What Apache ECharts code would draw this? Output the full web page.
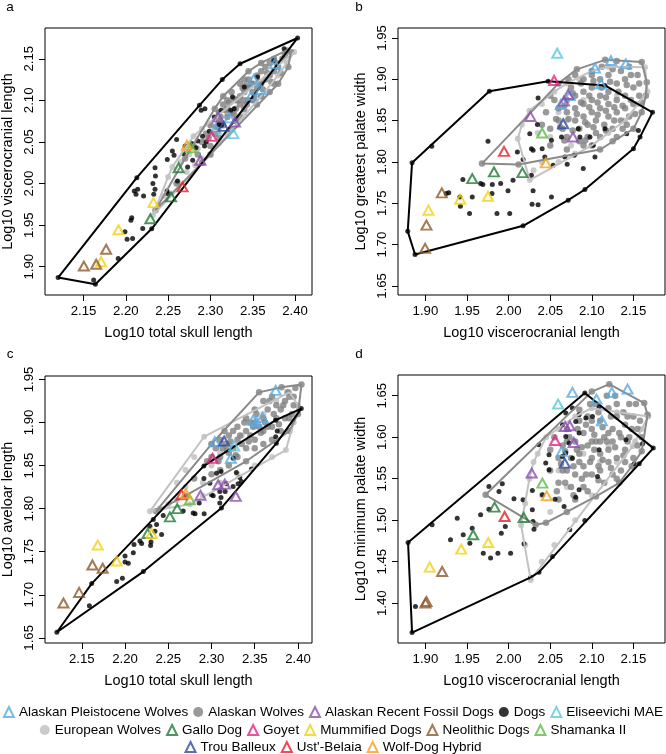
<!DOCTYPE html>
<html><head><meta charset="utf-8">
<script src="https://cdn.jsdelivr.net/npm/echarts@6/dist/echarts.min.js"></script>
<style>html,body{margin:0;padding:0;background:#fff}#c{width:666px;height:754px}</style>
</head><body><div id="c"></div>
<script>
// ---------- axis ticks / titles ----------
const panelLetters = ['a', 'b', 'c', 'd'];
const xTitles = ['Log10 total skull length', 'Log10 viscerocranial length', 'Log10 total skull length', 'Log10 viscerocranial length'];
const yTitles = ['Log10 viscerocranial length', 'Log10 greatest palate width', 'Log10 aveloar length', 'Log10 minimum palate width'];
const xTicksA = [2.15, 2.20, 2.25, 2.30, 2.35, 2.40];
const yTicksA = [1.90, 1.95, 2.00, 2.05, 2.10, 2.15];
const xTicksB = [1.90, 1.95, 2.00, 2.05, 2.10, 2.15];
const yTicksB = [1.65, 1.70, 1.75, 1.80, 1.85, 1.90, 1.95];
const xTicksC = [2.15, 2.20, 2.25, 2.30, 2.35, 2.40];
const yTicksC = [1.65, 1.70, 1.75, 1.80, 1.85, 1.90, 1.95];
const xTicksD = [1.90, 1.95, 2.00, 2.05, 2.10, 2.15];
const yTicksD = [1.40, 1.45, 1.50, 1.55, 1.60, 1.65];

// ---------- Dogs (black dots) ----------
const dogsA = [[2.12,1.887],[2.164,1.879],[2.162,1.884],[2.191,1.910],[2.213,2.007],[2.287,2.094],[2.314,2.125],[2.335,2.144],[2.403,2.175],
[2.199,1.942],[2.2015,1.933],[2.206,1.956],[2.207,1.959],[2.220,1.946],[2.210,1.991],[2.212,1.987],[2.214,1.993],[2.221,1.985],
[2.232,2.000],[2.233,1.987],[2.2345,2.019],[2.235,2.009],[2.2345,1.993],[2.2487,1.991],[2.2495,1.988],[2.257,2.034],[2.260,2.053],[2.255,2.039],
[2.268,2.036],[2.270,2.045],[2.278,2.048],[2.283,2.043],[2.285,2.051],[2.289,2.088],[2.2935,2.090],[2.2907,2.057],[2.295,2.05],[2.2986,2.063],
[2.3045,2.080],[2.3125,2.088],[2.310,2.071],[2.313,2.07],[2.324,2.088],[2.326,2.104],[2.340,2.116],[2.328,2.09],[2.3556,2.128],
[2.375,2.148],[2.387,2.162],[2.261,2.003],[2.273,2.02],[2.279,2.028],[2.293,2.045],[2.249,2.029],[2.208,1.934],[2.2306,1.9456]];
const dogsB = [[1.8787,1.716],[1.8875,1.688],[1.8839,1.799],[1.9768,1.8856],[2.173,1.860],[2.0174,1.7227],[2.0917,1.7666],[2.0716,1.7537],
[2.150,1.816],[2.158,1.83],[2.156,1.838],[2.142,1.834],[2.0475,1.8977],[2.1158,1.8925],[1.9076,1.819],
[1.928,1.7626],[1.942,1.7465],[1.9414,1.7577],[1.953,1.7376],[1.9563,1.7577],[1.945,1.7786],[1.9663,1.7738],[1.969,1.7726],[1.9804,1.7726],
[1.9752,1.8249],[1.98,1.7617],[1.9904,1.7738],[1.9993,1.765],[2.0053,1.7778],[1.986,1.7376],[2.0013,1.7376],[2.0294,1.765],[2.0282,1.7489],
[2.0354,1.7481],[2.0515,1.7577],[2.0274,1.7839],[2.0294,1.814],[2.0403,1.816],[2.0346,1.8454],[2.0515,1.8261],[2.0535,1.7959],[2.0636,1.8301],
[2.0704,1.7971],[2.0897,1.7919],[2.0837,1.8402],[2.1018,1.8201],[2.1038,1.806],[2.0789,1.808],[2.0857,1.8301],[2.0978,1.8301],[2.0354,1.8772],
[2.0254,1.8341],[2.0174,1.8028],[2.0105,1.812],[2.0274,1.816],[2.0435,1.806],[2.0676,1.806],[2.1158,1.84],[1.925,1.7617]];
const dogsC = [[2.1212,1.6565],[2.1588,1.6873],[2.1615,1.713],[2.2327,1.7873],[2.2912,1.8496],[2.3742,1.9027],[2.4038,1.9162],[2.2212,1.7269],
[2.3115,1.8008],[2.375,1.8758],[2.3742,1.8835],[2.376,1.89],
[2.1904,1.7154],[2.197,1.7192],[2.20,1.745],[2.20,1.738],[2.2038,1.7365],[2.2096,1.7488],[2.2104,1.7585],[2.2173,1.7623],[2.2192,1.7596],
[2.2288,1.7796],[2.2296,1.7573],[2.23,1.7612],[2.2346,1.7738],[2.2423,1.77],[2.2365,1.7815],[2.2442,1.7919],[2.2673,1.7973],[2.2788,1.795],
[2.281,1.794],[2.2915,1.7942],[2.2858,1.8065],[2.30,1.8162],[2.302,1.815],[2.3096,1.8065],[2.311,1.813],[2.3096,1.82],[2.3158,1.82],
[2.3173,1.8288],[2.325,1.8258],[2.3308,1.8288],[2.3346,1.8315],[2.3327,1.8362],[2.325,1.8585],[2.3058,1.8412],[2.311,1.843],[2.2981,1.8296],
[2.2912,1.835],[2.3288,1.8419],[2.3462,1.846]];
const dogsD = [[1.8791,1.4731],[1.8839,1.3646],[2.0265,1.431],[2.0365,1.4374],[2.0916,1.4997],[2.151,1.568],[2.157,1.568],[2.1739,1.5869],
[2.0916,1.6532],[2.0526,1.4563],[2.161,1.592],[2.1088,1.636],
[1.888,1.396],[1.908,1.4944],[1.9382,1.5025],[1.9301,1.4764],[1.9454,1.4824],[1.9534,1.4723],[1.9562,1.4904],[1.9663,1.5065],[1.9695,1.4603],
[1.9763,1.5407],[1.9763,1.5133],[1.9783,1.4543],[1.9871,1.4603],[1.9884,1.5346],[1.9924,1.5439],[1.9912,1.4844],[1.996,1.4924],[2.0024,1.4603],
[2.0064,1.5258],[2.0173,1.5246],[2.0285,1.5125],[2.0293,1.4985],[2.0185,1.4715],[2.0305,1.4892],[2.0285,1.5358],[2.0406,1.5306],[2.0558,1.5254],
[2.0667,1.5166],[2.0446,1.5688],[2.0486,1.5789],[2.0365,1.5909],[2.0687,1.5809],[2.0767,1.5748],[2.0727,1.5929],[2.0807,1.6191],[2.0847,1.6271],
[2.0928,1.6231],[2.1008,1.6251],[2.0687,1.6291],[2.0767,1.6351],[2.0647,1.615],[2.0687,1.6009],[2.0647,1.5769],[2.0486,1.5608],[2.0847,1.605],
[2.1088,1.5849],[2.1068,1.5527],[2.0847,1.5366],[2.0807,1.5278],[2.141,1.597],[2.0735,1.4884]];

// ---------- Alaskan Wolves (dark grey dots) ----------
const akWolvesA = [[2.235,1.968],[2.26,2.0],[2.27,2.03],[2.28,2.045],[2.285,2.035],[2.29,2.05],[2.295,2.06],[2.30,2.045],[2.30,2.07],[2.305,2.06],
[2.31,2.075],[2.31,2.085],[2.315,2.07],[2.315,2.095],[2.32,2.08],[2.32,2.09],[2.32,2.10],[2.325,2.085],[2.325,2.11],[2.33,2.09],[2.33,2.10],
[2.33,2.075],[2.335,2.095],[2.335,2.105],[2.335,2.12],[2.34,2.10],[2.34,2.11],[2.34,2.09],[2.345,2.115],[2.345,2.1],[2.345,2.125],[2.35,2.11],
[2.35,2.12],[2.35,2.10],[2.355,2.115],[2.355,2.13],[2.36,2.12],[2.36,2.135],[2.36,2.105],[2.365,2.125],[2.365,2.14],[2.37,2.13],[2.37,2.145],
[2.375,2.135],[2.375,2.15],[2.38,2.14],[2.385,2.15],[2.39,2.16],[2.395,2.158],[2.392,2.14],[2.38,2.12],[2.37,2.11],[2.325,2.065],[2.31,2.055],
[2.30,2.035],[2.29,2.025],[2.345,2.135],[2.315,2.105],[2.305,2.09],[2.335,2.08],[2.355,2.095],[2.375,2.12],[2.34,2.125],[2.36,2.145],
[2.318,2.088],[2.322,2.097],[2.328,2.083],[2.333,2.1],[2.338,2.115],[2.343,2.095],[2.348,2.12],[2.352,2.105],[2.357,2.122],[2.362,2.113],
[2.367,2.133],[2.372,2.122],[2.378,2.145],[2.383,2.133],[2.388,2.155],[2.312,2.08],[2.307,2.068],[2.298,2.055],[2.328,2.102],[2.342,2.118]];
const akWolvesB = [[1.968,1.798],[2.012,1.797],[2.116,1.9235],[2.13,1.922],[2.16,1.921],[2.166,1.8965],[2.165,1.88],[2.16,1.86],[2.15,1.84],
[2.13,1.83],[2.11,1.815],[2.09,1.82],[2.07,1.83],[2.05,1.84],[2.045,1.86],[2.05,1.88],[2.06,1.895],[2.08,1.905],[2.10,1.91],
[2.06,1.85],[2.07,1.86],[2.07,1.875],[2.08,1.85],[2.08,1.865],[2.08,1.88],[2.085,1.84],[2.09,1.855],[2.09,1.87],[2.09,1.885],[2.09,1.9],
[2.095,1.845],[2.10,1.86],[2.10,1.875],[2.10,1.89],[2.105,1.835],[2.105,1.85],[2.11,1.865],[2.11,1.88],[2.11,1.9],[2.115,1.845],[2.12,1.855],
[2.12,1.87],[2.12,1.885],[2.12,1.905],[2.125,1.84],[2.13,1.86],[2.13,1.875],[2.13,1.895],[2.135,1.85],[2.14,1.865],[2.14,1.88],[2.14,1.90],
[2.145,1.855],[2.15,1.87],[2.15,1.89],[2.155,1.905],[2.065,1.84],[2.075,1.89],[2.1,1.905],[2.085,1.825],[2.095,1.83],[2.06,1.865],[2.07,1.815],
[2.055,1.875],[2.11,1.83],[2.125,1.825],[2.135,1.91],[2.145,1.915],[2.1,1.82],[2.05,1.82],[2.04,1.845],
[2.062,1.842],[2.067,1.868],[2.072,1.852],[2.077,1.883],[2.082,1.858],[2.087,1.872],[2.087,1.895],[2.092,1.848],[2.097,1.866],[2.097,1.88],
[2.102,1.898],[2.107,1.872],[2.107,1.857],[2.112,1.89],[2.117,1.862],[2.117,1.878],[2.122,1.897],[2.127,1.866],[2.127,1.85],[2.132,1.885],
[2.137,1.868],[2.137,1.84],[2.142,1.893],[2.147,1.875],[2.152,1.858],[2.157,1.88],[2.157,1.895],[2.102,1.842],[2.092,1.826],[2.077,1.838],
[2.067,1.826],[2.057,1.852],[2.112,1.915],[2.125,1.912],[2.082,1.912],[2.142,1.845],[2.16,1.872],[2.147,1.905],[2.117,1.838],[2.072,1.9]];
const akWolvesC = [[2.236,1.797],[2.27,1.815],[2.28,1.835],[2.404,1.944],[2.381,1.941],[2.39,1.93],[2.395,1.92],[2.40,1.91],[2.385,1.905],
[2.375,1.92],[2.37,1.93],[2.365,1.915],[2.36,1.925],[2.36,1.905],[2.355,1.895],[2.35,1.915],[2.35,1.90],[2.345,1.885],[2.34,1.905],[2.34,1.89],
[2.335,1.875],[2.33,1.895],[2.33,1.88],[2.325,1.87],[2.32,1.885],[2.32,1.865],[2.315,1.875],[2.31,1.86],[2.31,1.88],[2.305,1.87],[2.30,1.86],
[2.30,1.875],[2.295,1.855],[2.37,1.895],[2.375,1.905],[2.38,1.915],[2.385,1.925],[2.39,1.905],[2.36,1.89],[2.35,1.88],[2.34,1.87],[2.33,1.86],
[2.32,1.85],[2.31,1.845],[2.30,1.84],[2.38,1.89],[2.39,1.89],[2.395,1.93],[2.355,1.935],[2.365,1.895],[2.345,1.90],[2.325,1.89],[2.315,1.89],
[2.37,1.88],[2.34,1.855],[2.36,1.875],
[2.318,1.868],[2.322,1.878],[2.328,1.862],[2.333,1.885],[2.338,1.9],[2.343,1.878],[2.348,1.895],[2.352,1.91],[2.357,1.888],[2.362,1.9],
[2.367,1.925],[2.372,1.91],[2.378,1.898],[2.383,1.92],[2.388,1.935],[2.393,1.91],[2.308,1.855],[2.313,1.87],[2.397,1.94],[2.35,1.87]];
const akWolvesD = [[1.9723,1.5306],[2.0325,1.4944],[2.045,1.497],[2.07,1.51],[2.105,1.5286],[2.13,1.55],[2.15,1.575],[2.16,1.60],[2.167,1.627],
[2.163,1.6412],[2.121,1.664],[2.1,1.655],[2.085,1.633],
[2.05,1.56],[2.06,1.575],[2.06,1.545],[2.065,1.59],[2.07,1.56],[2.07,1.61],[2.075,1.575],[2.075,1.54],[2.08,1.595],[2.08,1.555],[2.085,1.62],
[2.085,1.58],[2.09,1.565],[2.09,1.605],[2.09,1.54],[2.095,1.59],[2.095,1.625],[2.1,1.575],[2.1,1.555],[2.1,1.61],[2.105,1.595],[2.105,1.64],
[2.11,1.58],[2.11,1.56],[2.11,1.62],[2.115,1.60],[2.115,1.545],[2.12,1.585],[2.12,1.635],[2.12,1.57],[2.125,1.61],[2.125,1.595],[2.13,1.575],
[2.13,1.625],[2.135,1.60],[2.135,1.56],[2.14,1.615],[2.14,1.585],[2.145,1.64],[2.145,1.60],[2.15,1.625],[2.155,1.61],[2.155,1.59],[2.06,1.525],
[2.08,1.525],[2.095,1.535],[2.11,1.595],[2.125,1.555],[2.14,1.57],[2.07,1.595],[2.1,1.595],[2.13,1.64],[2.05,1.585],[2.065,1.56],[2.085,1.57],
[2.1,1.62],[2.12,1.605],
[2.063,1.568],[2.068,1.583],[2.073,1.6],[2.078,1.565],[2.083,1.61],[2.088,1.588],[2.093,1.555],[2.093,1.615],[2.098,1.57],[2.103,1.585],
[2.103,1.603],[2.108,1.63],[2.108,1.548],[2.113,1.573],[2.113,1.612],[2.118,1.595],[2.118,1.65],[2.123,1.563],[2.123,1.625],[2.128,1.588],
[2.133,1.605],[2.133,1.545],[2.138,1.63],[2.138,1.578],[2.143,1.595],[2.148,1.61],[2.148,1.565],[2.153,1.64],[2.158,1.62],[2.078,1.53],
[2.088,1.55],[2.058,1.535],[2.068,1.545],[2.098,1.64],[2.128,1.65],[2.143,1.625],[2.16,1.583],[2.055,1.6],[2.082,1.585],[2.108,1.565]];

// ---------- European Wolves (light grey dots) ----------
const euWolvesA = [[2.232,1.962],[2.245,1.985],[2.25,2.008],[2.255,2.02],[2.262,2.002],[2.265,2.026],[2.272,2.014],[2.275,2.035],[2.282,2.022],
[2.285,2.042],[2.29,2.03],[2.295,2.052],[2.30,2.035],[2.31,2.048],[2.32,2.06],[2.34,2.085],[2.36,2.105],[2.38,2.13],[2.39,2.145],[2.399,2.158],
[2.30,2.072],[2.29,2.066],[2.28,2.057],[2.32,2.084],[2.34,2.095],[2.31,2.065],[2.33,2.075],[2.35,2.1]];
const euWolvesB = [[2.0254,1.778],[2.03,1.79],[2.011,1.828],[2.016,1.845],[2.025,1.862],[2.04,1.87],[2.055,1.885],[2.07,1.895],[2.085,1.90],
[2.10,1.91],[2.12,1.915],[2.164,1.9146],[2.167,1.885],[2.155,1.87],[2.14,1.85],[2.12,1.835],[2.10,1.82],[2.08,1.81],[2.06,1.80],[2.04,1.80],
[2.05,1.83],[2.07,1.85],[2.09,1.875],[2.11,1.89],[2.13,1.88],[2.075,1.82],[2.035,1.835],[2.06,1.86]];
const euWolvesC = [[2.2288,1.7969],[2.24,1.80],[2.26,1.81],[2.27,1.825],[2.2915,1.8835],[2.28,1.86],[2.27,1.845],[2.26,1.83],[2.29,1.83],
[2.30,1.85],[2.31,1.865],[2.32,1.875],[2.335,1.885],[2.35,1.895],[2.36,1.91],[2.375,1.925],[2.39,1.935],[2.40,1.92],[2.395,1.90],[2.386,1.868],
[2.37,1.86],[2.35,1.85],[2.33,1.84],[2.31,1.83],[2.29,1.815],[2.275,1.805],[2.25,1.805],[2.30,1.875]];
const euWolvesD = [[2.0265,1.428],[2.02,1.47],[2.015,1.494],[2.02,1.52],[2.025,1.55],[2.03,1.57],[2.045,1.60],[2.06,1.61],[2.08,1.625],
[2.10,1.635],[2.13,1.63],[2.168,1.625],[2.16,1.61],[2.152,1.595],[2.149,1.589],[2.13,1.57],[2.10,1.53],[2.08,1.50],[2.055,1.47],[2.04,1.45],
[2.04,1.53],[2.06,1.56],[2.09,1.58],[2.11,1.57],[2.12,1.59],[2.05,1.51],[2.07,1.54],[2.035,1.58]];

// ---------- triangle groups: [panel a, panel b, panel c, panel d] ----------
const triPleistoceneWolves = [
 [[2.376,2.144],[2.351,2.125],[2.3595,2.113],[2.3485,2.106],[2.3226,2.079],[2.306,2.0655]],
 [[2.123,1.9226],[2.1408,1.9186],[2.1038,1.9134],[2.111,1.8945],[2.0736,1.8804],[2.0628,1.8695]],
 [[2.3742,1.9373],[2.3481,1.9027],[2.3588,1.9058],[2.352,1.9008],[2.3038,1.8777],[2.3223,1.8585]],
 [[2.0767,1.654],[2.1056,1.646],[2.1241,1.654],[2.143,1.658],[2.1121,1.6199],[2.0639,1.5829]]];
const triRecentFossilDogs = [
 [[2.309,2.080],[2.329,2.074],[2.288,2.028]],
 [[2.0262,1.855],[2.0716,1.8816],[2.0664,1.8736],[2.0773,1.8301]],
 [[2.3077,1.8277],[2.3154,1.8285],[2.3281,1.8142],[2.2873,1.8154]],
 [[2.0679,1.613],[2.0735,1.6138],[2.0783,1.5937],[2.0277,1.5568]]];
const triEliseevichi = [[[2.327,2.060]], [[2.0584,1.9315]], [[2.3262,1.8727]], [[2.0594,1.64]]];
const triGallo = [
 [[2.2624,2.019],[2.2534,1.984],[2.229,1.9576]],
 [[1.9563,1.7798],[1.9824,1.7879],[2.0166,1.7871]],
 [[2.2604,1.80],[2.2519,1.7904],[2.2262,1.7712]],
 [[1.9831,1.5158],[2.0181,1.5033],[1.9574,1.4824]]];
const triGoyet = [[[2.3013,2.0567]], [[2.0547,1.8985]], [[2.3012,1.8585]], [[2.0558,1.5961]]];
const triMummified = [
 [[2.2326,1.977],[2.1913,1.9444],[2.1708,1.906]],
 [[1.9752,1.7585],[1.9418,1.7549],[1.9036,1.7416]],
 [[2.2308,1.7712],[2.1904,1.7392],[2.1685,1.7577]],
 [[1.9755,1.4731],[1.943,1.4651],[1.9052,1.4434]]];
const triNeolithic = [
 [[2.1504,1.9008],[2.165,1.903],[2.1767,1.921]],
 [[1.9197,1.7626],[1.9012,1.7235],[1.8996,1.6954]],
 [[2.1623,1.7346],[2.1742,1.7308],[2.1469,1.7027],[2.1288,1.6904]],
 [[1.9201,1.4382],[1.9012,1.402],[1.9,1.40]]];
const triShamanka = [[[2.277,2.043]], [[2.0403,1.835]], [[2.275,1.8104]], [[2.0406,1.5447]]];
const triTrouBalleux = [[[2.3155,2.0687]], [[2.0656,1.8462]], [[2.3146,1.8785]], [[2.0675,1.5688]]];
const triUstBelaia = [[[2.2671,1.996]], [[1.9945,1.8128]], [[2.2654,1.8162]], [[1.9952,1.5045]]];
const triWolfDog = [[[2.2722,2.046]], [[2.0447,1.7988]], [[2.2704,1.8173]], [[2.0458,1.5294]]];

const legendRow1 = ['Alaskan Pleistocene Wolves', 'Alaskan Wolves', 'Alaskan Recent Fossil Dogs', 'Dogs', 'Eliseevichi MAE'];
const legendRow2 = ['European Wolves', 'Gallo Dog', 'Goyet', 'Mummified Dogs', 'Neolithic Dogs', 'Shamanka II'];
const legendRow3 = ['Trou Balleux', "Ust'-Belaia", 'Wolf-Dog Hybrid'];

// ---------- layout ----------
const FONT = 'Liberation Sans';
const grids = [
  {left: 45, top: 28, width: 267, height: 267},
  {left: 398, top: 28, width: 267, height: 267},
  {left: 45, top: 376, width: 267, height: 267},
  {left: 398, top: 375, width: 267, height: 268}
];
const xRanges = [[2.1045, 2.420], [1.867, 2.188], [2.1075, 2.4162], [1.867, 2.188]];
const yRanges = [[1.866, 2.187], [1.639, 1.962], [1.644, 1.954], [1.352, 1.675]];
const xTicks = [xTicksA, xTicksB, xTicksC, xTicksD];
const yTicks = [yTicksA, yTicksB, yTicksC, yTicksD];
const dogs = [dogsA, dogsB, dogsC, dogsD];
const akW = [akWolvesA, akWolvesB, akWolvesC, akWolvesD];
const euW = [euWolvesA, euWolvesB, euWolvesC, euWolvesD];
const triGroups = [
  ['Alaskan Pleistocene Wolves', triPleistoceneWolves, '#5AAAE0'],
  ['Alaskan Recent Fossil Dogs', triRecentFossilDogs, '#8B4FAF'],
  ['Eliseevichi MAE', triEliseevichi, '#5CC8DC'],
  ['Gallo Dog', triGallo, '#1F7A34'],
  ['Goyet', triGoyet, '#E5257F'],
  ['Mummified Dogs', triMummified, '#F5D10F'],
  ['Neolithic Dogs', triNeolithic, '#8C5A2B'],
  ['Shamanka II', triShamanka, '#5DBB46'],
  ['Trou Balleux', triTrouBalleux, '#2B4BA0'],
  ["Ust'-Belaia", triUstBelaia, '#E32227'],
  ['Wolf-Dog Hybrid', triWolfDog, '#F5A21B']
];

function hull(pts) {
  const p = pts.slice().sort((a, b) => a[0] - b[0] || a[1] - b[1]);
  const cr = (o, a, b) => (a[0] - o[0]) * (b[1] - o[1]) - (a[1] - o[1]) * (b[0] - o[0]);
  const lo = [], up = [];
  for (const q of p) { while (lo.length >= 2 && cr(lo[lo.length - 2], lo[lo.length - 1], q) <= 0) lo.pop(); lo.push(q); }
  for (let i = p.length - 1; i >= 0; i--) { const q = p[i]; while (up.length >= 2 && cr(up[up.length - 2], up[up.length - 1], q) <= 0) up.pop(); up.push(q); }
  lo.pop(); up.pop();
  const h = lo.concat(up); h.push(h[0]); return h;
}

const xAxes = [], yAxes = [], series = [], graphics = [];
for (let i = 0; i < 4; i++) {
  const g = grids[i];
  xAxes.push({type: 'value', gridIndex: i, min: xRanges[i][0], max: xRanges[i][1],
    axisLine: {show: false, onZero: false}, splitLine: {show: false},
    axisTick: {show: true, length: 6, inside: false, customValues: xTicks[i], lineStyle: {color: '#000', width: 1}},
    axisLabel: {show: true, customValues: xTicks[i], formatter: v => v.toFixed(2), margin: 10, fontSize: 13.2, color: '#000', fontFamily: FONT}});
  yAxes.push({type: 'value', gridIndex: i, min: yRanges[i][0], max: yRanges[i][1],
    axisLine: {show: false, onZero: false}, splitLine: {show: false},
    axisTick: {show: true, length: 6, inside: false, customValues: yTicks[i], lineStyle: {color: '#000', width: 1}},
    axisLabel: {show: true, rotate: 90, customValues: yTicks[i], formatter: v => v.toFixed(2), margin: 9, fontSize: 13.2, color: '#000', fontFamily: FONT}});
  const base = {xAxisIndex: i, yAxisIndex: i, silent: true, animation: false};
  series.push(Object.assign({type: 'scatter', name: 'European Wolves', data: euW[i], symbol: 'circle', symbolSize: 6, itemStyle: {color: '#BEBEBE'}, z: 2}, base));
  series.push(Object.assign({type: 'scatter', name: 'Alaskan Wolves', data: akW[i], symbol: 'circle', symbolSize: 6.5, itemStyle: {color: '#7F7F7F'}, z: 2}, base));
  series.push(Object.assign({type: 'scatter', name: 'Dogs', data: dogs[i], symbol: 'circle', symbolSize: 5, itemStyle: {color: '#000'}, z: 2}, base));
  series.push(Object.assign({type: 'line', name: 'hullEU', data: hull(euW[i]), symbol: 'none', lineStyle: {color: '#C2C2C2', width: 2}, z: 3}, base));
  series.push(Object.assign({type: 'line', name: 'hullAK', data: hull(akW[i]), symbol: 'none', lineStyle: {color: '#8A8A8A', width: 2}, z: 3}, base));
  series.push(Object.assign({type: 'line', name: 'hullDog', data: hull(dogs[i]), symbol: 'none', lineStyle: {color: '#000', width: 2}, z: 3}, base));
  for (const [name, arr, col] of triGroups) {
    series.push(Object.assign({type: 'scatter', name: name, data: arr[i], symbol: 'triangle', symbolSize: [10, 9],
      itemStyle: {color: 'rgba(255,255,255,0)', borderColor: col, borderWidth: 2}, z: 4}, base));
  }
  const lx = i % 2 === 0 ? 10 : 359;
  const ly = i < 2 ? 7 : 354;
  graphics.push({type: 'text', x: lx, y: ly, style: {text: panelLetters[i], font: '13.5px "' + FONT + '"', fill: '#000', align: 'center', verticalAlign: 'middle', textAlign: 'center', textVerticalAlign: 'middle'}});
  graphics.push({type: 'text', x: g.left + g.width / 2, y: g.top + g.height + 38, style: {text: xTitles[i], font: '14.5px "' + FONT + '"', fill: '#000', align: 'center', verticalAlign: 'middle', textAlign: 'center', textVerticalAlign: 'middle'}});
  graphics.push({type: 'text', x: g.left - 37, y: g.top + g.height / 2, rotation: Math.PI / 2, style: {text: yTitles[i], font: '14.5px "' + FONT + '"', fill: '#000', align: 'center', verticalAlign: 'middle', textAlign: 'center', textVerticalAlign: 'middle'}});
}

const legendBase = {left: 'center', orient: 'horizontal', itemWidth: 10, itemHeight: 10, itemGap: 5, padding: 0, selectedMode: false,
  textStyle: {fontSize: 13.5, color: '#000', fontFamily: FONT}};
const option = {
  animation: false,
  backgroundColor: '#fff',
  grid: grids.map(g => Object.assign({show: true, borderColor: '#000', borderWidth: 1, backgroundColor: 'transparent'}, g)),
  xAxis: xAxes,
  yAxis: yAxes,
  legend: [
    Object.assign({data: legendRow1, top: 705}, legendBase),
    Object.assign({data: legendRow2, top: 723}, legendBase),
    Object.assign({data: legendRow3, top: 740}, legendBase)
  ],
  graphic: graphics,
  series: series
};
const chart = echarts.init(document.getElementById('c'), null, {renderer: 'canvas'});
chart.setOption(option);
</script>
</body></html>
